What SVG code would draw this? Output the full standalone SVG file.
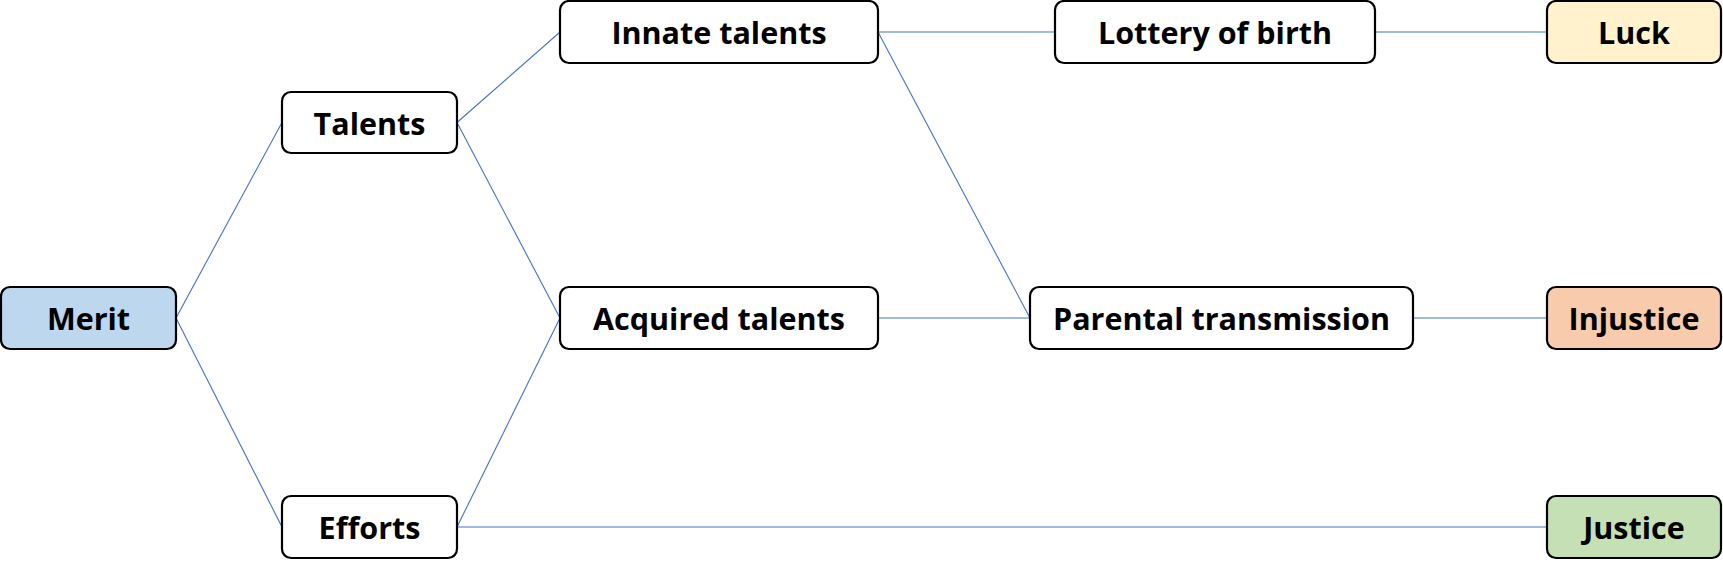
<svg xmlns="http://www.w3.org/2000/svg" width="1723" height="566" viewBox="0 0 1723 566">
<style>
.n rect{stroke:#000;stroke-width:2.2;fill:#fff}
.n text{font-family:"Open Sans","Noto Sans","DejaVu Sans",sans-serif;font-weight:bold;font-size:30.5px;fill:#000;text-anchor:middle;dominant-baseline:central}
#conn line{stroke:#4472C4;stroke-width:1.1}
</style>
<rect width="1723" height="566" fill="#fff"/>
<g id="conn">
<line x1="176" y1="318" x2="282" y2="122.5"/>
<line x1="176" y1="318" x2="282" y2="527"/>
<line x1="457" y1="122.5" x2="560" y2="32"/>
<line x1="457" y1="122.5" x2="560" y2="318"/>
<line x1="457" y1="527" x2="560" y2="318"/>
<line x1="457" y1="527" x2="1547" y2="527"/>
<line x1="878" y1="32" x2="1055" y2="32"/>
<line x1="878" y1="32" x2="1030" y2="318"/>
<line x1="878" y1="318" x2="1030" y2="318"/>
<line x1="1375" y1="32" x2="1547" y2="32"/>
<line x1="1413" y1="318" x2="1547" y2="318"/>
</g>
<g id="merit" class="n"><rect x="1" y="287" width="175" height="62" rx="9" style="fill:#BDD7EE"/><text x="88.5" y="318">Merit</text></g>
<g id="talents" class="n"><rect x="282" y="92" width="175" height="61" rx="9"/><text x="369.5" y="122.5">Talents</text></g>
<g id="efforts" class="n"><rect x="282" y="496" width="175" height="62" rx="9"/><text x="369.5" y="527">Efforts</text></g>
<g id="innate" class="n"><rect x="560" y="1" width="318" height="62" rx="9"/><text x="719" y="32">Innate talents</text></g>
<g id="acquired" class="n"><rect x="560" y="287" width="318" height="62" rx="9"/><text x="719" y="318">Acquired talents</text></g>
<g id="lottery" class="n"><rect x="1055" y="1" width="320" height="62" rx="9"/><text x="1215" y="32">Lottery of birth</text></g>
<g id="parental" class="n"><rect x="1030" y="287" width="383" height="62" rx="9"/><text x="1221.5" y="318">Parental transmission</text></g>
<g id="luck" class="n"><rect x="1547" y="1" width="174" height="62" rx="9" style="fill:#FFF2CC"/><text x="1634" y="32">Luck</text></g>
<g id="injustice" class="n"><rect x="1547" y="287" width="174" height="62" rx="9" style="fill:#F8CBAD"/><text x="1634" y="318">Injustice</text></g>
<g id="justice" class="n"><rect x="1547" y="496" width="174" height="62" rx="9" style="fill:#C5E0B4"/><text x="1634" y="527">Justice</text></g>
</svg>
